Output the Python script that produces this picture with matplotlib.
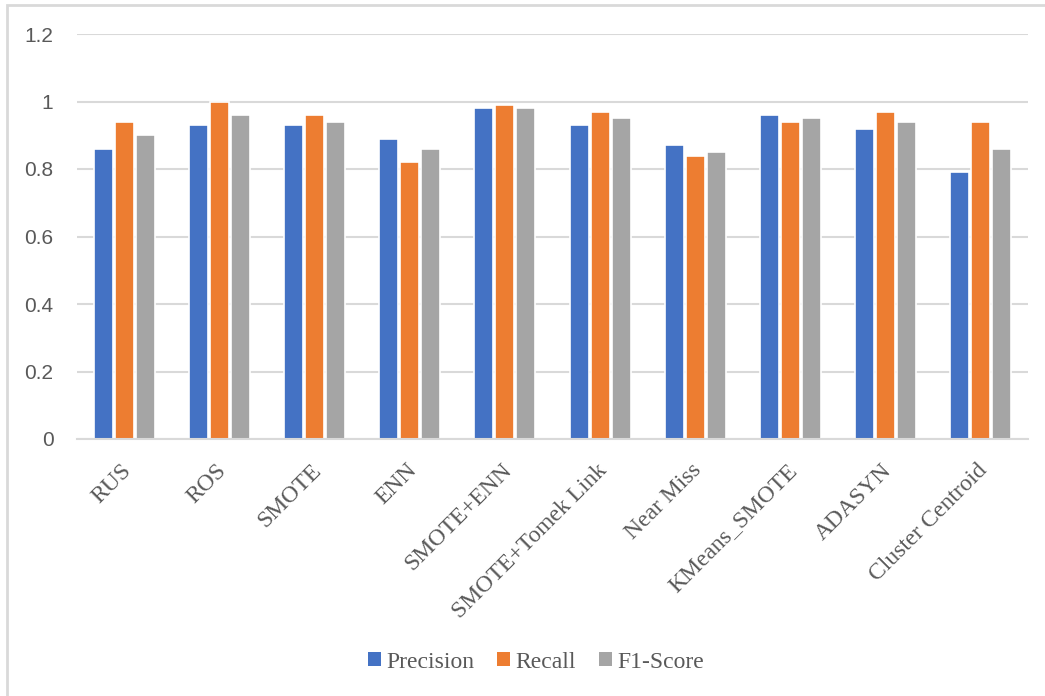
import numpy as np
import matplotlib
matplotlib.use("Agg")
from matplotlib import pyplot as plt
from matplotlib.patches import Rectangle
import matplotlib.transforms as mtransforms

# Data
methods = ['RUS', 'ROS', 'SMOTE', 'ENN', 'SMOTE+ENN', 'SMOTE+Tomek Link',
           'Near Miss', 'KMeans_SMOTE', 'ADASYN', 'Cluster Centroid']
precision = [0.86, 0.93, 0.93, 0.89, 0.98, 0.93, 0.87, 0.96, 0.92, 0.79]
recall = [0.94, 1.00, 0.96, 0.82, 0.99, 0.97, 0.84, 0.94, 0.97, 0.94]
f1_score = [0.90, 0.96, 0.94, 0.86, 0.98, 0.95, 0.85, 0.95, 0.94, 0.86]
y_ticks = [0, 0.2, 0.4, 0.6, 0.8, 1.0, 1.2]
y_tick_labels = ['0', '0.2', '0.4', '0.6', '0.8', '1', '1.2']

colors = ['#4472C4', '#ED7D31', '#A5A5A5']
serif = ['Liberation Serif', 'DejaVu Serif']
sans = ['Liberation Sans', 'DejaVu Sans']

W, H = 1045, 696
fig = plt.figure(figsize=(W / 100, H / 100), dpi=100)
ax = fig.add_axes([77 / W, (H - 439) / H, (1028 - 77) / W, (439 - 34) / H])

x = np.arange(len(methods))
step = 0.221
series = [('Precision', precision), ('Recall', recall), ('F1-Score', f1_score)]
for i, (name, vals) in enumerate(series):
    ax.bar(x + (i - 1) * step, vals, width=0.2, color=colors[i], edgecolor='white',
           linewidth=1.2, label=name, zorder=3)

ax.set_xlim(-0.5, len(methods) - 0.5)
ax.set_ylim(0, 1.2)
ax.set_yticks(y_ticks)
ax.set_yticklabels(y_tick_labels, fontfamily=sans, fontsize=15, color='#595959')
ax.yaxis.grid(True, color='#D9D9D9', linewidth=1.5, zorder=0)
ax.tick_params(axis='y', length=0, pad=17)
ax.tick_params(axis='x', length=0, pad=15)

ax.set_xticks(x)
ax.set_xticklabels(methods, rotation=45, ha='right', va='top', rotation_mode='anchor',
                   fontfamily=serif, fontsize=17, color='#595959')
offset = mtransforms.ScaledTranslation(-4 / 100, 0, fig.dpi_scale_trans)
for lbl in ax.get_xticklabels():
    lbl.set_transform(lbl.get_transform() + offset)

for s in ['top', 'right', 'left']:
    ax.spines[s].set_visible(False)
ax.spines['bottom'].set_color('#D9D9D9')
ax.spines['bottom'].set_linewidth(1.5)
ax.spines['bottom'].set_zorder(4)

leg = fig.legend(loc='center', bbox_to_anchor=(536 / W, (H - 662) / H), ncol=3,
                 frameon=False, handlelength=0.55, handleheight=0.55,
                 handletextpad=0.25, columnspacing=0.95,
                 prop={'family': serif, 'size': 17})
for t in leg.get_texts():
    t.set_color('#595959')
for h in leg.legend_handles:
    h.set_edgecolor('none')

# chart border
fig.patches.append(Rectangle((7 / W, -0.1), 1.2, (H - 5) / H + 0.1,
                             transform=fig.transFigure, fill=False,
                             edgecolor='#D9D9D9', linewidth=2))

fig.savefig('out.png', dpi=100)
